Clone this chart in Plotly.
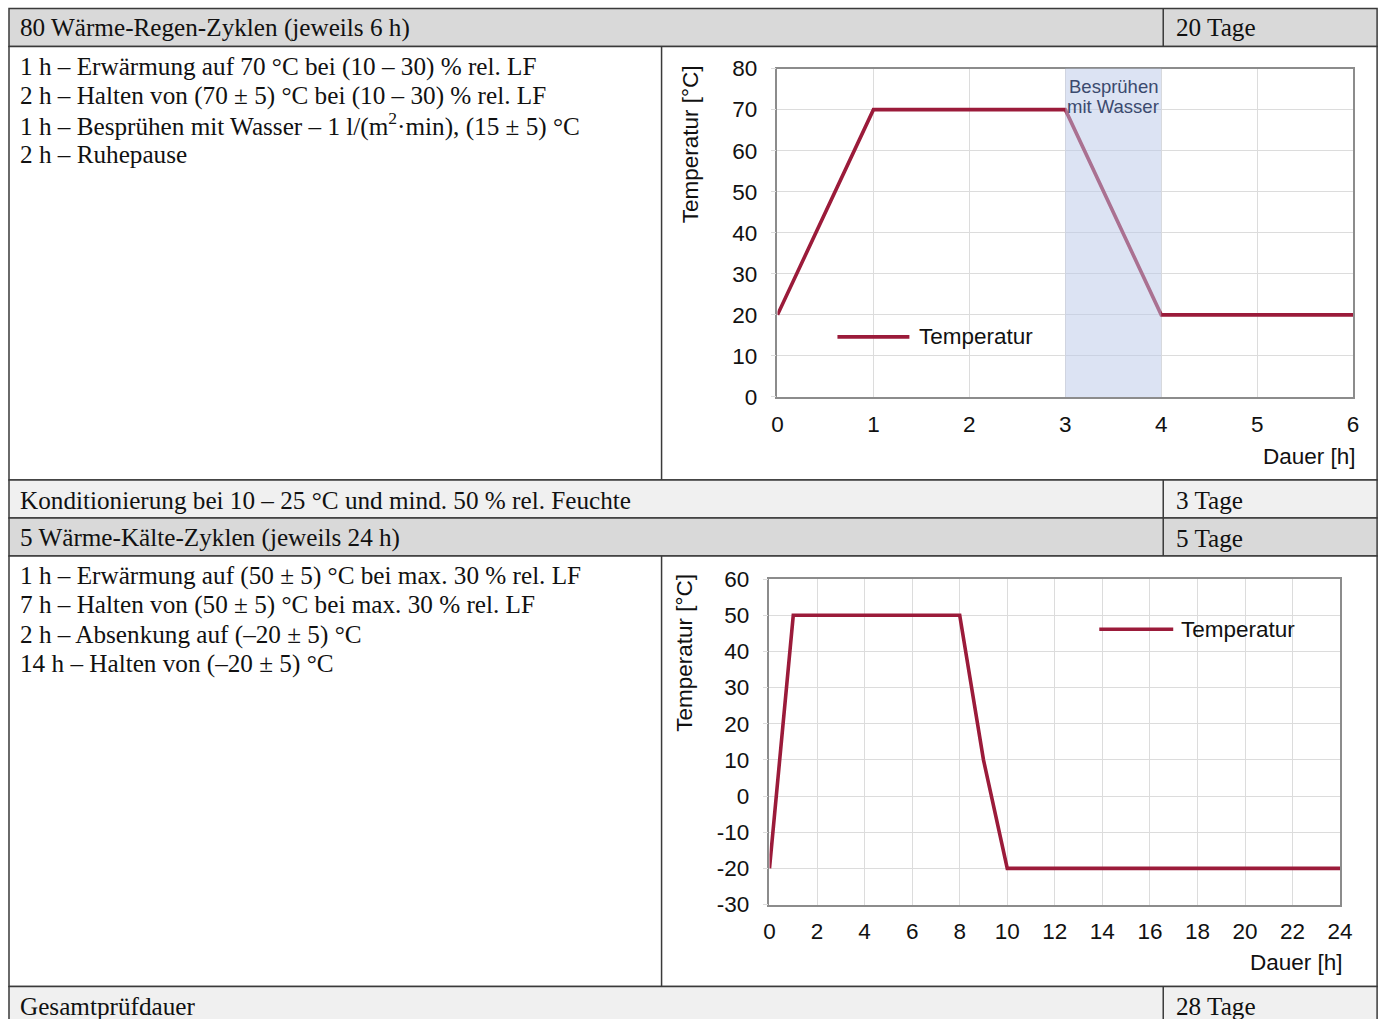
import plotly.graph_objects as go

# Layout is laid out in sheet coordinates (px of the printed sheet); the
# helpers below convert them into the figure's paper coordinates.
SX, CX = 0.987, 6.0
SY, CY = 0.975, 12.5
W, H = 1392, 1046

# ---- data -------------------------------------------------------------
rain_hours = [0, 1, 3, 4, 6]
rain_temp = [20, 70, 70, 20, 20]
spray_window = [3, 4]
spray_label = ["Besprühen", "mit Wasser"]
rain_yticks = [0, 10, 20, 30, 40, 50, 60, 70, 80]
rain_xticks = [0, 1, 2, 3, 4, 5, 6]

cold_hours = [0, 1, 8, 9, 10, 24]
cold_temp = [-20, 50, 50, 10, -20, -20]
cold_yticks = [-30, -20, -10, 0, 10, 20, 30, 40, 50, 60]
cold_ytick_labels = ["-30", "-20", "-10", "0", "10", "20", "30", "40", "50", "60"]
cold_xticks = [0, 2, 4, 6, 8, 10, 12, 14, 16, 18, 20, 22, 24]

rain_header = "80 Wärme-Regen-Zyklen (jeweils 6 h)"
rain_days = "20 Tage"
rain_steps = [
    "1 h – Erwärmung auf 70 °C bei (10 – 30) % rel. LF",
    "2 h – Halten von (70 ± 5) °C bei (10 – 30) % rel. LF",
    "1 h – Besprühen mit Wasser – 1 l/(m<sup>2</sup>·min), (15 ± 5) °C",
    "2 h – Ruhepause",
]
cond_text = "Konditionierung bei 10 – 25 °C und mind. 50 % rel. Feuchte"
cond_days = "3 Tage"
cold_header = "5 Wärme-Kälte-Zyklen (jeweils 24 h)"
cold_days = "5 Tage"
cold_steps = [
    "1 h – Erwärmung auf (50 ± 5) °C bei max. 30 % rel. LF",
    "7 h – Halten von (50 ± 5) °C bei max. 30 % rel. LF",
    "2 h – Absenkung auf (–20 ± 5) °C",
    "14 h – Halten von (–20 ± 5) °C",
]
total_text = "Gesamtprüfdauer"
total_days = "28 Tage"

# ---- styling ----------------------------------------------------------
LINE = "#9b1b3a"
GRID = "#dcdcdc"
FRAME = "#8c8c8c"
SERIF = "Liberation Serif"
SANS = "Liberation Sans"
TXT = 25.2
TICK = 22.5


def px(x):
    return (x - CX) / SX / W


def py(y):
    return 1 - (y - CY) / SY / H


fig = go.Figure()

fig.add_trace(go.Scatter(x=rain_hours, y=rain_temp, mode="lines",
                         line=dict(color=LINE, width=3.6),
                         xaxis="x", yaxis="y", showlegend=False))
fig.add_trace(go.Scatter(x=cold_hours, y=cold_temp, mode="lines",
                         line=dict(color=LINE, width=3.6),
                         xaxis="x2", yaxis="y2", showlegend=False))

axis_common = dict(showgrid=True, gridcolor=GRID, gridwidth=1,
                   zeroline=False, showline=True, linecolor=FRAME,
                   linewidth=1.5, mirror=True, tickmode="array",
                   tickfont=dict(family=SANS, size=TICK, color="#111"))

fig.update_layout(
    width=W, height=H, margin=dict(l=0, r=0, t=0, b=0),
    paper_bgcolor="white", plot_bgcolor="white", showlegend=False,
    xaxis=dict(domain=[px(778), px(1354)], range=[0, 6],
               tickvals=rain_xticks,
               anchor="y", ticks="", ticklabelstandoff=6, **axis_common),
    yaxis=dict(domain=[py(397), py(69)], range=[0, 80],
               tickvals=rain_yticks,
               anchor="x", ticks="outside", ticklen=5, tickcolor=GRID,
               ticklabelstandoff=9, **axis_common),
    xaxis2=dict(domain=[px(770), px(1341)], range=[0, 24],
                tickvals=cold_xticks,
                anchor="y2", ticks="", ticklabelstandoff=6, **axis_common),
    yaxis2=dict(domain=[py(904), py(579)], range=[-30, 60],
                tickvals=cold_yticks, ticktext=cold_ytick_labels,
                anchor="x2", ticks="outside", ticklen=5, tickcolor=GRID,
                ticklabelstandoff=9, **axis_common),
)

shapes = []
annotations = []

# ---- table cells ------------------------------------------------------
BORDER = dict(color="#3a3a3a", width=1.5)
L, R, SPLIT_DAYS, SPLIT_CHART = 9, 1378, 1164, 662
rows = [
    (9, 47, "#d9d9d9"),
    (47, 480, "white"),
    (480, 518, "#f0f0f0"),
    (518, 556, "#d9d9d9"),
    (556, 986, "white"),
    (986, 1060, "#f0f0f0"),
]
for y0, y1, fill in rows:
    shapes.append(dict(type="rect", xref="paper", yref="paper",
                       x0=px(L), x1=px(R), y0=py(y1), y1=py(y0),
                       fillcolor=fill, line=BORDER, layer="below"))
for y0, y1 in [(9, 47), (480, 518), (518, 556), (986, 1060)]:
    shapes.append(dict(type="line", xref="paper", yref="paper",
                       x0=px(SPLIT_DAYS), x1=px(SPLIT_DAYS),
                       y0=py(y1), y1=py(y0), line=BORDER, layer="below"))
for y0, y1 in [(47, 480), (556, 986)]:
    shapes.append(dict(type="line", xref="paper", yref="paper",
                       x0=px(SPLIT_CHART), x1=px(SPLIT_CHART),
                       y0=py(y1), y1=py(y0), line=BORDER, layer="below"))


def text(x, y, s, size=TXT, family=SERIF, color="#111", anchor="left"):
    annotations.append(dict(x=px(x), y=py(y), xref="paper", yref="paper",
                            text=s, showarrow=False, xanchor=anchor,
                            yanchor="middle",
                            font=dict(family=family, size=size, color=color)))


LEFT = 18
text(LEFT, 28, rain_header)
text(1175, 28, rain_days)
for i, s in enumerate(rain_steps):
    # a superscript makes the text box taller; lift that line slightly
    lift = 1 if "<sup>" in s else 0
    text(LEFT, 67 + i * 29.2 - lift, s)
text(LEFT, 500, cond_text)
text(1175, 500, cond_days)
text(LEFT, 538, cold_header)
text(1175, 538, cold_days)
for i, s in enumerate(cold_steps):
    text(LEFT, 576 + i * 29.3, s)
text(LEFT, 1006, total_text)
text(1175, 1006, total_days)

# ---- chart decorations ------------------------------------------------
# spray phase highlighted over the temperature curve
shapes.append(dict(type="rect", xref="x", yref="y domain",
                   x0=spray_window[0], x1=spray_window[1], y0=0, y1=1,
                   fillcolor="rgb(186,200,232)", opacity=0.5,
                   line=dict(width=0), layer="above"))
for i, s in enumerate(spray_label):
    annotations.append(dict(x=sum(spray_window) / 2, y=py(87 + i * 20),
                            xref="x", yref="paper", text=s,
                            showarrow=False, xanchor="center",
                            yanchor="middle",
                            font=dict(family=SANS, size=18.5,
                                      color="#3b4a6e")))


def axis_titles(ytitle_x, ytitle_y, xtitle_right, xtitle_y):
    annotations.append(dict(x=px(ytitle_x), y=py(ytitle_y), xref="paper",
                            yref="paper", text="Temperatur [°C]",
                            textangle=-90, showarrow=False,
                            xanchor="center", yanchor="middle",
                            font=dict(family=SANS, size=TICK, color="#111")))
    annotations.append(dict(x=px(xtitle_right), y=py(xtitle_y), xref="paper",
                            yref="paper", text="Dauer [h]", showarrow=False,
                            xanchor="right", yanchor="middle",
                            font=dict(family=SANS, size=TICK, color="#111")))


axis_titles(691, 145, 1359, 456)
axis_titles(685, 653, 1346, 962)


def legend_key(x0, x1, y, label_x):
    shapes.append(dict(type="line", xref="paper", yref="paper",
                       x0=px(x0), x1=px(x1), y0=py(y), y1=py(y),
                       line=dict(color=LINE, width=3.6)))
    text(label_x, y, "Temperatur", size=TICK, family=SANS)


legend_key(838, 910, 337, 918)
legend_key(1100, 1174, 629, 1180)

fig.update_layout(shapes=shapes, annotations=annotations)
fig.write_html("out.html")
